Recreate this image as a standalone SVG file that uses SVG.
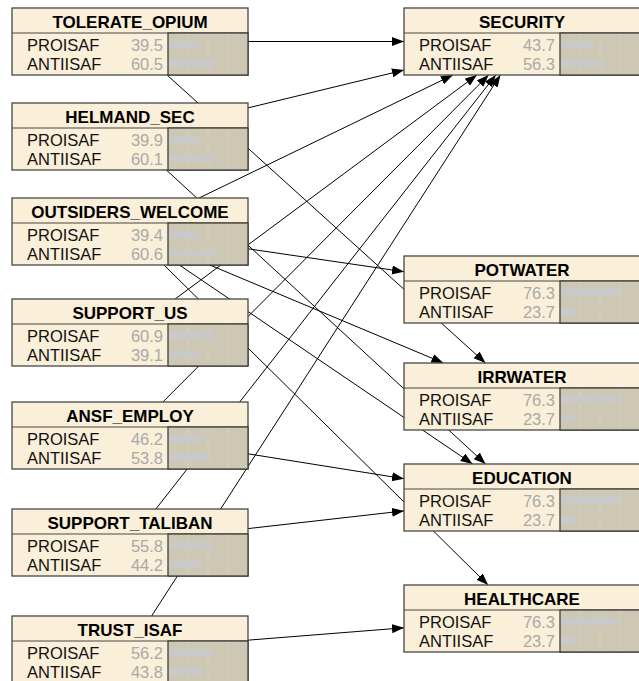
<svg xmlns="http://www.w3.org/2000/svg" width="639" height="681" viewBox="0 0 639 681">
<style>
.box{fill:#faefd9;stroke:#474747;stroke-width:1.3}
.sep{stroke:#474747;stroke-width:1.2}
.val{fill:#cec7b4;stroke:#333;stroke-width:1.2}
.grid{stroke:#e4dece;stroke-width:1;stroke-dasharray:1 2}
.bar{fill:#c9c9c9}
.title{font-family:"Liberation Sans",Arial,sans-serif;font-weight:bold;font-size:17px;text-anchor:middle;fill:#000}
.lab{font-family:"Liberation Sans",Arial,sans-serif;font-size:16.5px;fill:#111}
.num{font-family:"Liberation Sans",Arial,sans-serif;font-size:16.5px;fill:#a9a9a9;text-anchor:end}
.edge{stroke:#000;stroke-width:1;fill:none;marker-end:url(#arr)}
</style>
<defs>
<marker id="arr" markerUnits="userSpaceOnUse" markerWidth="13" markerHeight="10" refX="12" refY="4.5" orient="auto">
<path d="M0,0 L12,4.5 L0,9 z" fill="#000"/>
</marker>
</defs>
<rect width="639" height="681" fill="#fff"/>
<g id="connectors">
<path class="edge" d="M130,41.5 L404,41.5"/>
<path class="edge" d="M130,136.5 L404,70.1"/>
<path class="edge" d="M130,231.5 L452.9,75"/>
<path class="edge" d="M130,332.5 L476.9,75"/>
<path class="edge" d="M130,435 L488.6,75"/>
<path class="edge" d="M130,542 L495.8,75"/>
<path class="edge" d="M130,649.5 L500.4,75"/>
<path class="edge" d="M130,231.5 L404,271.7"/>
<path class="edge" d="M130,41.5 L485.5,363"/>
<path class="edge" d="M130,231.5 L443.4,363"/>
<path class="edge" d="M130,136.5 L485.6,464"/>
<path class="edge" d="M130,231.5 L472.6,464"/>
<path class="edge" d="M130,435 L404,478.7"/>
<path class="edge" d="M130,542 L404,510.9"/>
<path class="edge" d="M130,231.5 L488.1,585"/>
<path class="edge" d="M130,649.5 L404,627.8"/>
</g>

<g id="tolerate_opium" transform="translate(0,8)">
<rect class="box" x="12" y="0" width="236" height="67"/>
<line class="sep" x1="12" y1="25" x2="248" y2="25"/>
<rect class="val" x="168" y="25" width="80" height="42"/>
<line class="grid" x1="188" y1="26" x2="188" y2="66"/><line class="grid" x1="208" y1="26" x2="208" y2="66"/><line class="grid" x1="228" y1="26" x2="228" y2="66"/>
<rect class="bar" x="169" y="33" width="29.6" height="7"/>
<rect class="bar" x="169" y="52" width="46.4" height="7"/>
<text class="title" x="130" y="19.5">TOLERATE_OPIUM</text>
<text class="lab" x="27" y="42.5">PROISAF</text><text class="num" x="163" y="42.5">39.5</text>
<text class="lab" x="27" y="61.5">ANTIISAF</text><text class="num" x="163" y="61.5">60.5</text>
</g>

<g id="helmand_sec" transform="translate(0,103)">
<rect class="box" x="12" y="0" width="236" height="67"/>
<line class="sep" x1="12" y1="25" x2="248" y2="25"/>
<rect class="val" x="168" y="25" width="80" height="42"/>
<line class="grid" x1="188" y1="26" x2="188" y2="66"/><line class="grid" x1="208" y1="26" x2="208" y2="66"/><line class="grid" x1="228" y1="26" x2="228" y2="66"/>
<rect class="bar" x="169" y="33" width="29.9" height="7"/>
<rect class="bar" x="169" y="52" width="46.1" height="7"/>
<text class="title" x="130" y="19.5">HELMAND_SEC</text>
<text class="lab" x="27" y="42.5">PROISAF</text><text class="num" x="163" y="42.5">39.9</text>
<text class="lab" x="27" y="61.5">ANTIISAF</text><text class="num" x="163" y="61.5">60.1</text>
</g>

<g id="outsiders_welcome" transform="translate(0,198)">
<rect class="box" x="12" y="0" width="236" height="67"/>
<line class="sep" x1="12" y1="25" x2="248" y2="25"/>
<rect class="val" x="168" y="25" width="80" height="42"/>
<line class="grid" x1="188" y1="26" x2="188" y2="66"/><line class="grid" x1="208" y1="26" x2="208" y2="66"/><line class="grid" x1="228" y1="26" x2="228" y2="66"/>
<rect class="bar" x="169" y="33" width="29.5" height="7"/>
<rect class="bar" x="169" y="52" width="46.5" height="7"/>
<text class="title" x="130" y="19.5">OUTSIDERS_WELCOME</text>
<text class="lab" x="27" y="42.5">PROISAF</text><text class="num" x="163" y="42.5">39.4</text>
<text class="lab" x="27" y="61.5">ANTIISAF</text><text class="num" x="163" y="61.5">60.6</text>
</g>

<g id="support_us" transform="translate(0,299)">
<rect class="box" x="12" y="0" width="236" height="67"/>
<line class="sep" x1="12" y1="25" x2="248" y2="25"/>
<rect class="val" x="168" y="25" width="80" height="42"/>
<line class="grid" x1="188" y1="26" x2="188" y2="66"/><line class="grid" x1="208" y1="26" x2="208" y2="66"/><line class="grid" x1="228" y1="26" x2="228" y2="66"/>
<rect class="bar" x="169" y="33" width="46.7" height="7"/>
<rect class="bar" x="169" y="52" width="29.3" height="7"/>
<text class="title" x="130" y="19.5">SUPPORT_US</text>
<text class="lab" x="27" y="42.5">PROISAF</text><text class="num" x="163" y="42.5">60.9</text>
<text class="lab" x="27" y="61.5">ANTIISAF</text><text class="num" x="163" y="61.5">39.1</text>
</g>

<g id="ansf_employ" transform="translate(0,402)">
<rect class="box" x="12" y="0" width="236" height="67"/>
<line class="sep" x1="12" y1="25" x2="248" y2="25"/>
<rect class="val" x="168" y="25" width="80" height="42"/>
<line class="grid" x1="188" y1="26" x2="188" y2="66"/><line class="grid" x1="208" y1="26" x2="208" y2="66"/><line class="grid" x1="228" y1="26" x2="228" y2="66"/>
<rect class="bar" x="169" y="33" width="35" height="7"/>
<rect class="bar" x="169" y="52" width="41" height="7"/>
<text class="title" x="130" y="19.5">ANSF_EMPLOY</text>
<text class="lab" x="27" y="42.5">PROISAF</text><text class="num" x="163" y="42.5">46.2</text>
<text class="lab" x="27" y="61.5">ANTIISAF</text><text class="num" x="163" y="61.5">53.8</text>
</g>

<g id="support_taliban" transform="translate(0,509)">
<rect class="box" x="12" y="0" width="236" height="67"/>
<line class="sep" x1="12" y1="25" x2="248" y2="25"/>
<rect class="val" x="168" y="25" width="80" height="42"/>
<line class="grid" x1="188" y1="26" x2="188" y2="66"/><line class="grid" x1="208" y1="26" x2="208" y2="66"/><line class="grid" x1="228" y1="26" x2="228" y2="66"/>
<rect class="bar" x="169" y="33" width="42.6" height="7"/>
<rect class="bar" x="169" y="52" width="33.4" height="7"/>
<text class="title" x="130" y="19.5">SUPPORT_TALIBAN</text>
<text class="lab" x="27" y="42.5">PROISAF</text><text class="num" x="163" y="42.5">55.8</text>
<text class="lab" x="27" y="61.5">ANTIISAF</text><text class="num" x="163" y="61.5">44.2</text>
</g>

<g id="trust_isaf" transform="translate(0,616)">
<rect class="box" x="12" y="0" width="236" height="67"/>
<line class="sep" x1="12" y1="25" x2="248" y2="25"/>
<rect class="val" x="168" y="25" width="80" height="42"/>
<line class="grid" x1="188" y1="26" x2="188" y2="66"/><line class="grid" x1="208" y1="26" x2="208" y2="66"/><line class="grid" x1="228" y1="26" x2="228" y2="66"/>
<rect class="bar" x="169" y="33" width="43" height="7"/>
<rect class="bar" x="169" y="52" width="33" height="7"/>
<text class="title" x="130" y="19.5">TRUST_ISAF</text>
<text class="lab" x="27" y="42.5">PROISAF</text><text class="num" x="163" y="42.5">56.2</text>
<text class="lab" x="27" y="61.5">ANTIISAF</text><text class="num" x="163" y="61.5">43.8</text>
</g>

<g id="security" transform="translate(392,8)">
<rect class="box" x="12" y="0" width="236" height="67"/>
<line class="sep" x1="12" y1="25" x2="248" y2="25"/>
<rect class="val" x="168" y="25" width="80" height="42"/>
<line class="grid" x1="188" y1="26" x2="188" y2="66"/><line class="grid" x1="208" y1="26" x2="208" y2="66"/><line class="grid" x1="228" y1="26" x2="228" y2="66"/>
<rect class="bar" x="169" y="33" width="33" height="7"/>
<rect class="bar" x="169" y="52" width="43" height="7"/>
<text class="title" x="130" y="19.5">SECURITY</text>
<text class="lab" x="27" y="42.5">PROISAF</text><text class="num" x="163" y="42.5">43.7</text>
<text class="lab" x="27" y="61.5">ANTIISAF</text><text class="num" x="163" y="61.5">56.3</text>
</g>

<g id="potwater" transform="translate(392,256)">
<rect class="box" x="12" y="0" width="236" height="67"/>
<line class="sep" x1="12" y1="25" x2="248" y2="25"/>
<rect class="val" x="168" y="25" width="80" height="42"/>
<line class="grid" x1="188" y1="26" x2="188" y2="66"/><line class="grid" x1="208" y1="26" x2="208" y2="66"/><line class="grid" x1="228" y1="26" x2="228" y2="66"/>
<rect class="bar" x="169" y="33" width="59" height="7"/>
<rect class="bar" x="169" y="52" width="17" height="7"/>
<text class="title" x="130" y="19.5">POTWATER</text>
<text class="lab" x="27" y="42.5">PROISAF</text><text class="num" x="163" y="42.5">76.3</text>
<text class="lab" x="27" y="61.5">ANTIISAF</text><text class="num" x="163" y="61.5">23.7</text>
</g>

<g id="irrwater" transform="translate(392,363)">
<rect class="box" x="12" y="0" width="236" height="67"/>
<line class="sep" x1="12" y1="25" x2="248" y2="25"/>
<rect class="val" x="168" y="25" width="80" height="42"/>
<line class="grid" x1="188" y1="26" x2="188" y2="66"/><line class="grid" x1="208" y1="26" x2="208" y2="66"/><line class="grid" x1="228" y1="26" x2="228" y2="66"/>
<rect class="bar" x="169" y="33" width="59" height="7"/>
<rect class="bar" x="169" y="52" width="17" height="7"/>
<text class="title" x="130" y="19.5">IRRWATER</text>
<text class="lab" x="27" y="42.5">PROISAF</text><text class="num" x="163" y="42.5">76.3</text>
<text class="lab" x="27" y="61.5">ANTIISAF</text><text class="num" x="163" y="61.5">23.7</text>
</g>

<g id="education" transform="translate(392,464)">
<rect class="box" x="12" y="0" width="236" height="67"/>
<line class="sep" x1="12" y1="25" x2="248" y2="25"/>
<rect class="val" x="168" y="25" width="80" height="42"/>
<line class="grid" x1="188" y1="26" x2="188" y2="66"/><line class="grid" x1="208" y1="26" x2="208" y2="66"/><line class="grid" x1="228" y1="26" x2="228" y2="66"/>
<rect class="bar" x="169" y="33" width="59" height="7"/>
<rect class="bar" x="169" y="52" width="17" height="7"/>
<text class="title" x="130" y="19.5">EDUCATION</text>
<text class="lab" x="27" y="42.5">PROISAF</text><text class="num" x="163" y="42.5">76.3</text>
<text class="lab" x="27" y="61.5">ANTIISAF</text><text class="num" x="163" y="61.5">23.7</text>
</g>

<g id="healthcare" transform="translate(392,585)">
<rect class="box" x="12" y="0" width="236" height="67"/>
<line class="sep" x1="12" y1="25" x2="248" y2="25"/>
<rect class="val" x="168" y="25" width="80" height="42"/>
<line class="grid" x1="188" y1="26" x2="188" y2="66"/><line class="grid" x1="208" y1="26" x2="208" y2="66"/><line class="grid" x1="228" y1="26" x2="228" y2="66"/>
<rect class="bar" x="169" y="33" width="59" height="7"/>
<rect class="bar" x="169" y="52" width="17" height="7"/>
<text class="title" x="130" y="19.5">HEALTHCARE</text>
<text class="lab" x="27" y="42.5">PROISAF</text><text class="num" x="163" y="42.5">76.3</text>
<text class="lab" x="27" y="61.5">ANTIISAF</text><text class="num" x="163" y="61.5">23.7</text>
</g>
</svg>
